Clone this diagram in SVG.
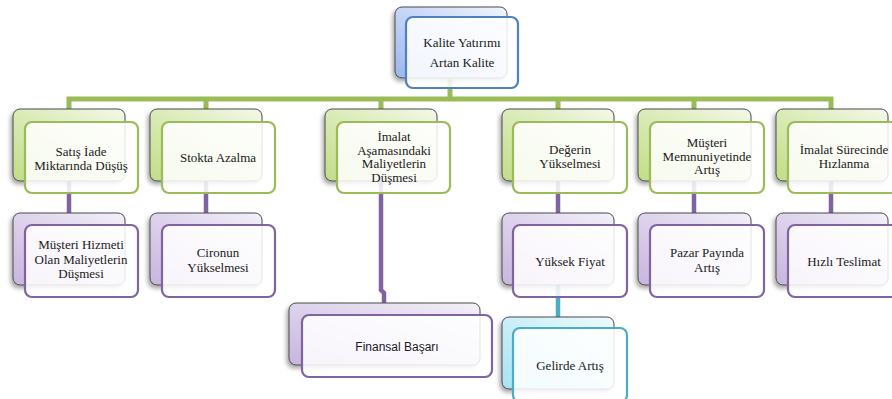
<svg xmlns="http://www.w3.org/2000/svg" width="892" height="399" viewBox="0 0 892 399">
  <defs>
    <linearGradient id="gBlue" x1="1" y1="0" x2="0" y2="1">
      <stop offset="0" stop-color="#f1f5fd"/>
      <stop offset="1" stop-color="#9ab6ef"/>
    </linearGradient>
    <linearGradient id="gGreen" x1="1" y1="0" x2="0" y2="1">
      <stop offset="0" stop-color="#f3f8e8"/>
      <stop offset="1" stop-color="#c2dd86"/>
    </linearGradient>
    <linearGradient id="gPurple" x1="1" y1="0" x2="0" y2="1">
      <stop offset="0" stop-color="#f4f0f9"/>
      <stop offset="1" stop-color="#c7b5de"/>
    </linearGradient>
    <linearGradient id="gTeal" x1="1" y1="0" x2="0" y2="1">
      <stop offset="0" stop-color="#eefafd"/>
      <stop offset="1" stop-color="#a6e4f4"/>
    </linearGradient>
    <filter id="shadow" x="-20%" y="-20%" width="140%" height="150%">
      <feDropShadow dx="-2" dy="3" stdDeviation="2" flood-color="#000" flood-opacity="0.35"/>
    </filter>
  </defs>
  <style>
    .back { stroke: #4a4a4a; stroke-width: 1; filter: url(#shadow); }
    .front { stroke-width: 2.2; fill: #ffffff; fill-opacity: 0.86; }
    .fg { stroke: #9bbb59; }
    .fp { stroke: #8064a2; }
    .ft { stroke: #4bacc6; }
    .fb { stroke: #4f81bd; }
    .conn { fill: none; stroke-linejoin: miter; stroke-linecap: butt; }
    text { font-family: "Liberation Serif", "Times New Roman", serif; font-size: 13px; fill: #1a1a1a; text-anchor: middle; }
    .sans { font-family: "Liberation Sans", Arial, sans-serif; font-size: 12px; }
  </style>

  <!-- connectors -->
  <g id="connectors" class="conn">
    <path stroke="#9bbb59" stroke-width="5" d="M450,77 V99 M69,109 V99 H831 V109 M206,99 V109 M381,99 V109 M558,99 V109 M694,99 V109"/>
    <path stroke="#8064a2" stroke-width="4.5" d="M69,181 V213 M206,181 V213 M381,181 V290 L384,293 V303 M558,181 V213 M694,181 V213 M831,181 V213"/>
    <path stroke="#4bacc6" stroke-width="4.5" d="M558,285 V317"/>
  </g>

  <!-- root -->
  <g id="kalite">
    <rect class="back" x="395" y="7" width="112" height="71" rx="7" fill="url(#gBlue)"/>
    <rect class="front fb" x="406" y="17" width="112" height="71" rx="7"/>
    <text x="462" y="47">Kalite Yatırımı</text>
    <text x="462" y="67">Artan Kalite</text>
  </g>

  <!-- first level -->
  <g id="satis-iade">
    <rect class="back" x="13" y="109" width="112" height="72" rx="7" fill="url(#gGreen)"/>
    <rect class="front fg" x="25" y="122" width="113" height="71" rx="7"/>
    <text x="81" y="156">Satış İade</text>
    <text x="81" y="169.5">Miktarında Düşüş</text>
  </g>
  <g id="stokta-azalma">
    <rect class="back" x="150" y="109" width="112" height="72" rx="7" fill="url(#gGreen)"/>
    <rect class="front fg" x="162" y="122" width="113" height="71" rx="7"/>
    <text x="218" y="162">Stokta Azalma</text>
  </g>
  <g id="imalat-asamasi">
    <rect class="back" x="325" y="109" width="112" height="72" rx="7" fill="url(#gGreen)"/>
    <rect class="front fg" x="337" y="122" width="113" height="71" rx="7"/>
    <text x="394" y="141">İmalat</text>
    <text x="394" y="154.5">Aşamasındaki</text>
    <text x="394" y="168">Maliyetlerin</text>
    <text x="394" y="181.5">Düşmesi</text>
  </g>
  <g id="degerin-yukselmesi">
    <rect class="back" x="502" y="109" width="112" height="72" rx="7" fill="url(#gGreen)"/>
    <rect class="front fg" x="513" y="122" width="114" height="71" rx="7"/>
    <text x="570" y="154">Değerin</text>
    <text x="570" y="167.5">Yükselmesi</text>
  </g>
  <g id="musteri-memnuniyeti">
    <rect class="back" x="638" y="109" width="113" height="72" rx="7" fill="url(#gGreen)"/>
    <rect class="front fg" x="650" y="122" width="114" height="71" rx="7"/>
    <text x="707" y="147">Müşteri</text>
    <text x="707" y="160.5">Memnuniyetinde</text>
    <text x="707" y="174">Artış</text>
  </g>
  <g id="imalat-hizlanma">
    <rect class="back" x="776" y="109" width="112" height="72" rx="7" fill="url(#gGreen)"/>
    <rect class="front fg" x="788" y="122" width="113" height="71" rx="7"/>
    <text x="844" y="154">İmalat Sürecinde</text>
    <text x="844" y="167.5">Hızlanma</text>
  </g>

  <!-- second level -->
  <g id="musteri-hizmeti">
    <rect class="back" x="13" y="213" width="112" height="72" rx="7" fill="url(#gPurple)"/>
    <rect class="front fp" x="25" y="225" width="113" height="72" rx="7"/>
    <text x="81" y="249">Müşteri Hizmeti</text>
    <text x="81" y="263.5">Olan Maliyetlerin</text>
    <text x="81" y="278">Düşmesi</text>
  </g>
  <g id="cironun-yukselmesi">
    <rect class="back" x="150" y="213" width="112" height="72" rx="7" fill="url(#gPurple)"/>
    <rect class="front fp" x="162" y="225" width="113" height="72" rx="7"/>
    <text x="218" y="257">Cironun</text>
    <text x="218" y="271.5">Yükselmesi</text>
  </g>
  <g id="yuksek-fiyat">
    <rect class="back" x="502" y="213" width="112" height="72" rx="7" fill="url(#gPurple)"/>
    <rect class="front fp" x="513" y="225" width="114" height="72" rx="7"/>
    <text x="570" y="265.5">Yüksek Fiyat</text>
  </g>
  <g id="pazar-payi">
    <rect class="back" x="638" y="213" width="113" height="72" rx="7" fill="url(#gPurple)"/>
    <rect class="front fp" x="650" y="225" width="114" height="72" rx="7"/>
    <text x="707" y="257">Pazar Payında</text>
    <text x="707" y="271.5">Artış</text>
  </g>
  <g id="hizli-teslimat">
    <rect class="back" x="776" y="213" width="112" height="72" rx="7" fill="url(#gPurple)"/>
    <rect class="front fp" x="788" y="225" width="113" height="72" rx="7"/>
    <text x="844" y="265.5">Hızlı Teslimat</text>
  </g>

  <!-- third level -->
  <g id="finansal-basari">
    <rect class="back" x="289" y="303" width="191" height="62" rx="7" fill="url(#gPurple)"/>
    <rect class="front fp" x="302" y="315" width="190" height="62" rx="7"/>
    <text class="sans" x="397" y="351">Finansal Başarı</text>
  </g>
  <g id="gelirde-artis">
    <rect class="back" x="502" y="317" width="112" height="72" rx="7" fill="url(#gTeal)"/>
    <rect class="front ft" x="513" y="328" width="114" height="74" rx="7"/>
    <text x="570" y="369.5">Gelirde Artış</text>
  </g>
</svg>
